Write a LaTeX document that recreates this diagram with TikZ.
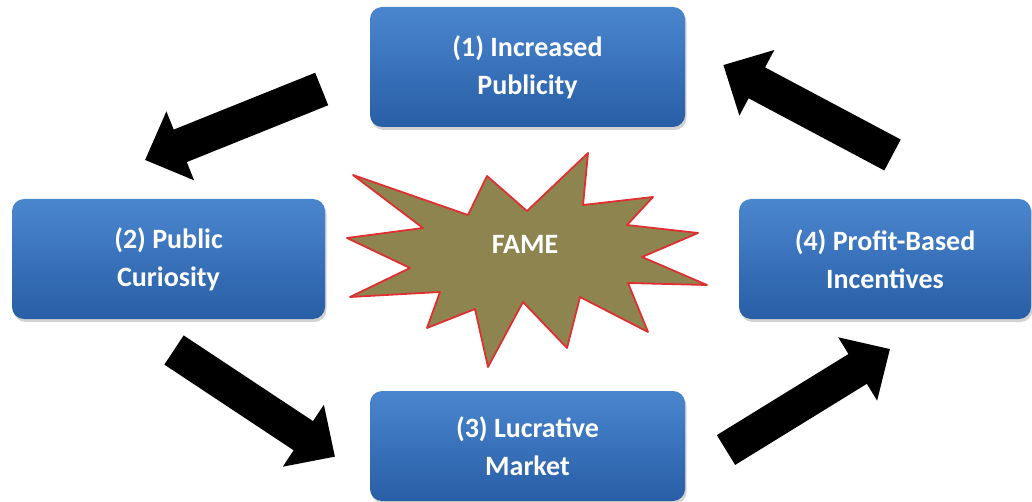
\documentclass[tikz,border=0pt]{standalone}
\usepackage{fontspec}
\setmainfont{Carlito}
\usetikzlibrary{arrows.meta,shadows}
\definecolor{boxtop}{RGB}{74,134,206}
\definecolor{boxbot}{RGB}{40,94,166}
\definecolor{starfill}{RGB}{142,132,80}
\definecolor{starline}{RGB}{222,48,48}
\begin{document}
\begin{tikzpicture}[x=1pt,y=-1pt,
  stagebox/.style={draw=none, rounded corners=12pt, top color=boxtop, bottom color=boxbot,
    text=white, font=\fontsize{28}{38}\selectfont\bfseries, align=center, inner sep=0pt,
    drop shadow={opacity=0.35,shadow xshift=1.5pt,shadow yshift=-3pt}},
  bigarrow/.style={line width=35pt, black, -{Triangle[length=38pt,width=72pt]}},
  startext/.style={text=white, font=\fontsize{28}{35}\selectfont\bfseries}]
\useasboundingbox (0,0) rectangle (1032,502);
% boxes
\node[stagebox, minimum width=315pt, minimum height=120pt] (b1) at (527.5,67) {(1) Increased\\Publicity};
\node[stagebox, minimum width=313pt, minimum height=120pt] (b2) at (168.5,259) {(2) Public\\Curiosity};
\node[stagebox, minimum width=315pt, minimum height=110pt] (b3) at (527.5,446) {(3) Lucrative\\Market};
\node[stagebox, minimum width=292pt, minimum height=120pt] (b4) at (885,259) {(4) Profit-Based\\Incentives};
% starburst
\filldraw[fill=starfill, draw=starline, line width=1.8pt, line join=round]
  (353,175) -- (468,215) -- (487,176) -- (527,211) -- (588,153) -- (583,205) -- (653,197)
  -- (627,225) -- (698,233) -- (642,257) -- (707,285) -- (628,283) -- (648,332) -- (580,297)
  -- (567,348) -- (523,302) -- (488,367) -- (475,309) -- (427,328) -- (440,292) -- (350,297)
  -- (410,268) -- (347,238) -- (423,228) -- cycle;
\node[startext] (fame) at (525,244) {FAME};
% arrows
\coordinate (a1s) at (321.7,89);  \coordinate (a1e) at (145,160);
\coordinate (a2s) at (174,350);   \coordinate (a2e) at (335,456.7);
\coordinate (a3s) at (726,450);   \coordinate (a3e) at (890,349);
\coordinate (a4s) at (892.5,155); \coordinate (a4e) at (723.3,65);
\draw[bigarrow] (a1s) -- (a1e);
\draw[bigarrow] (a2s) -- (a2e);
\draw[bigarrow] (a3s) -- (a3e);
\draw[bigarrow] (a4s) -- (a4e);
\end{tikzpicture}
\end{document}
